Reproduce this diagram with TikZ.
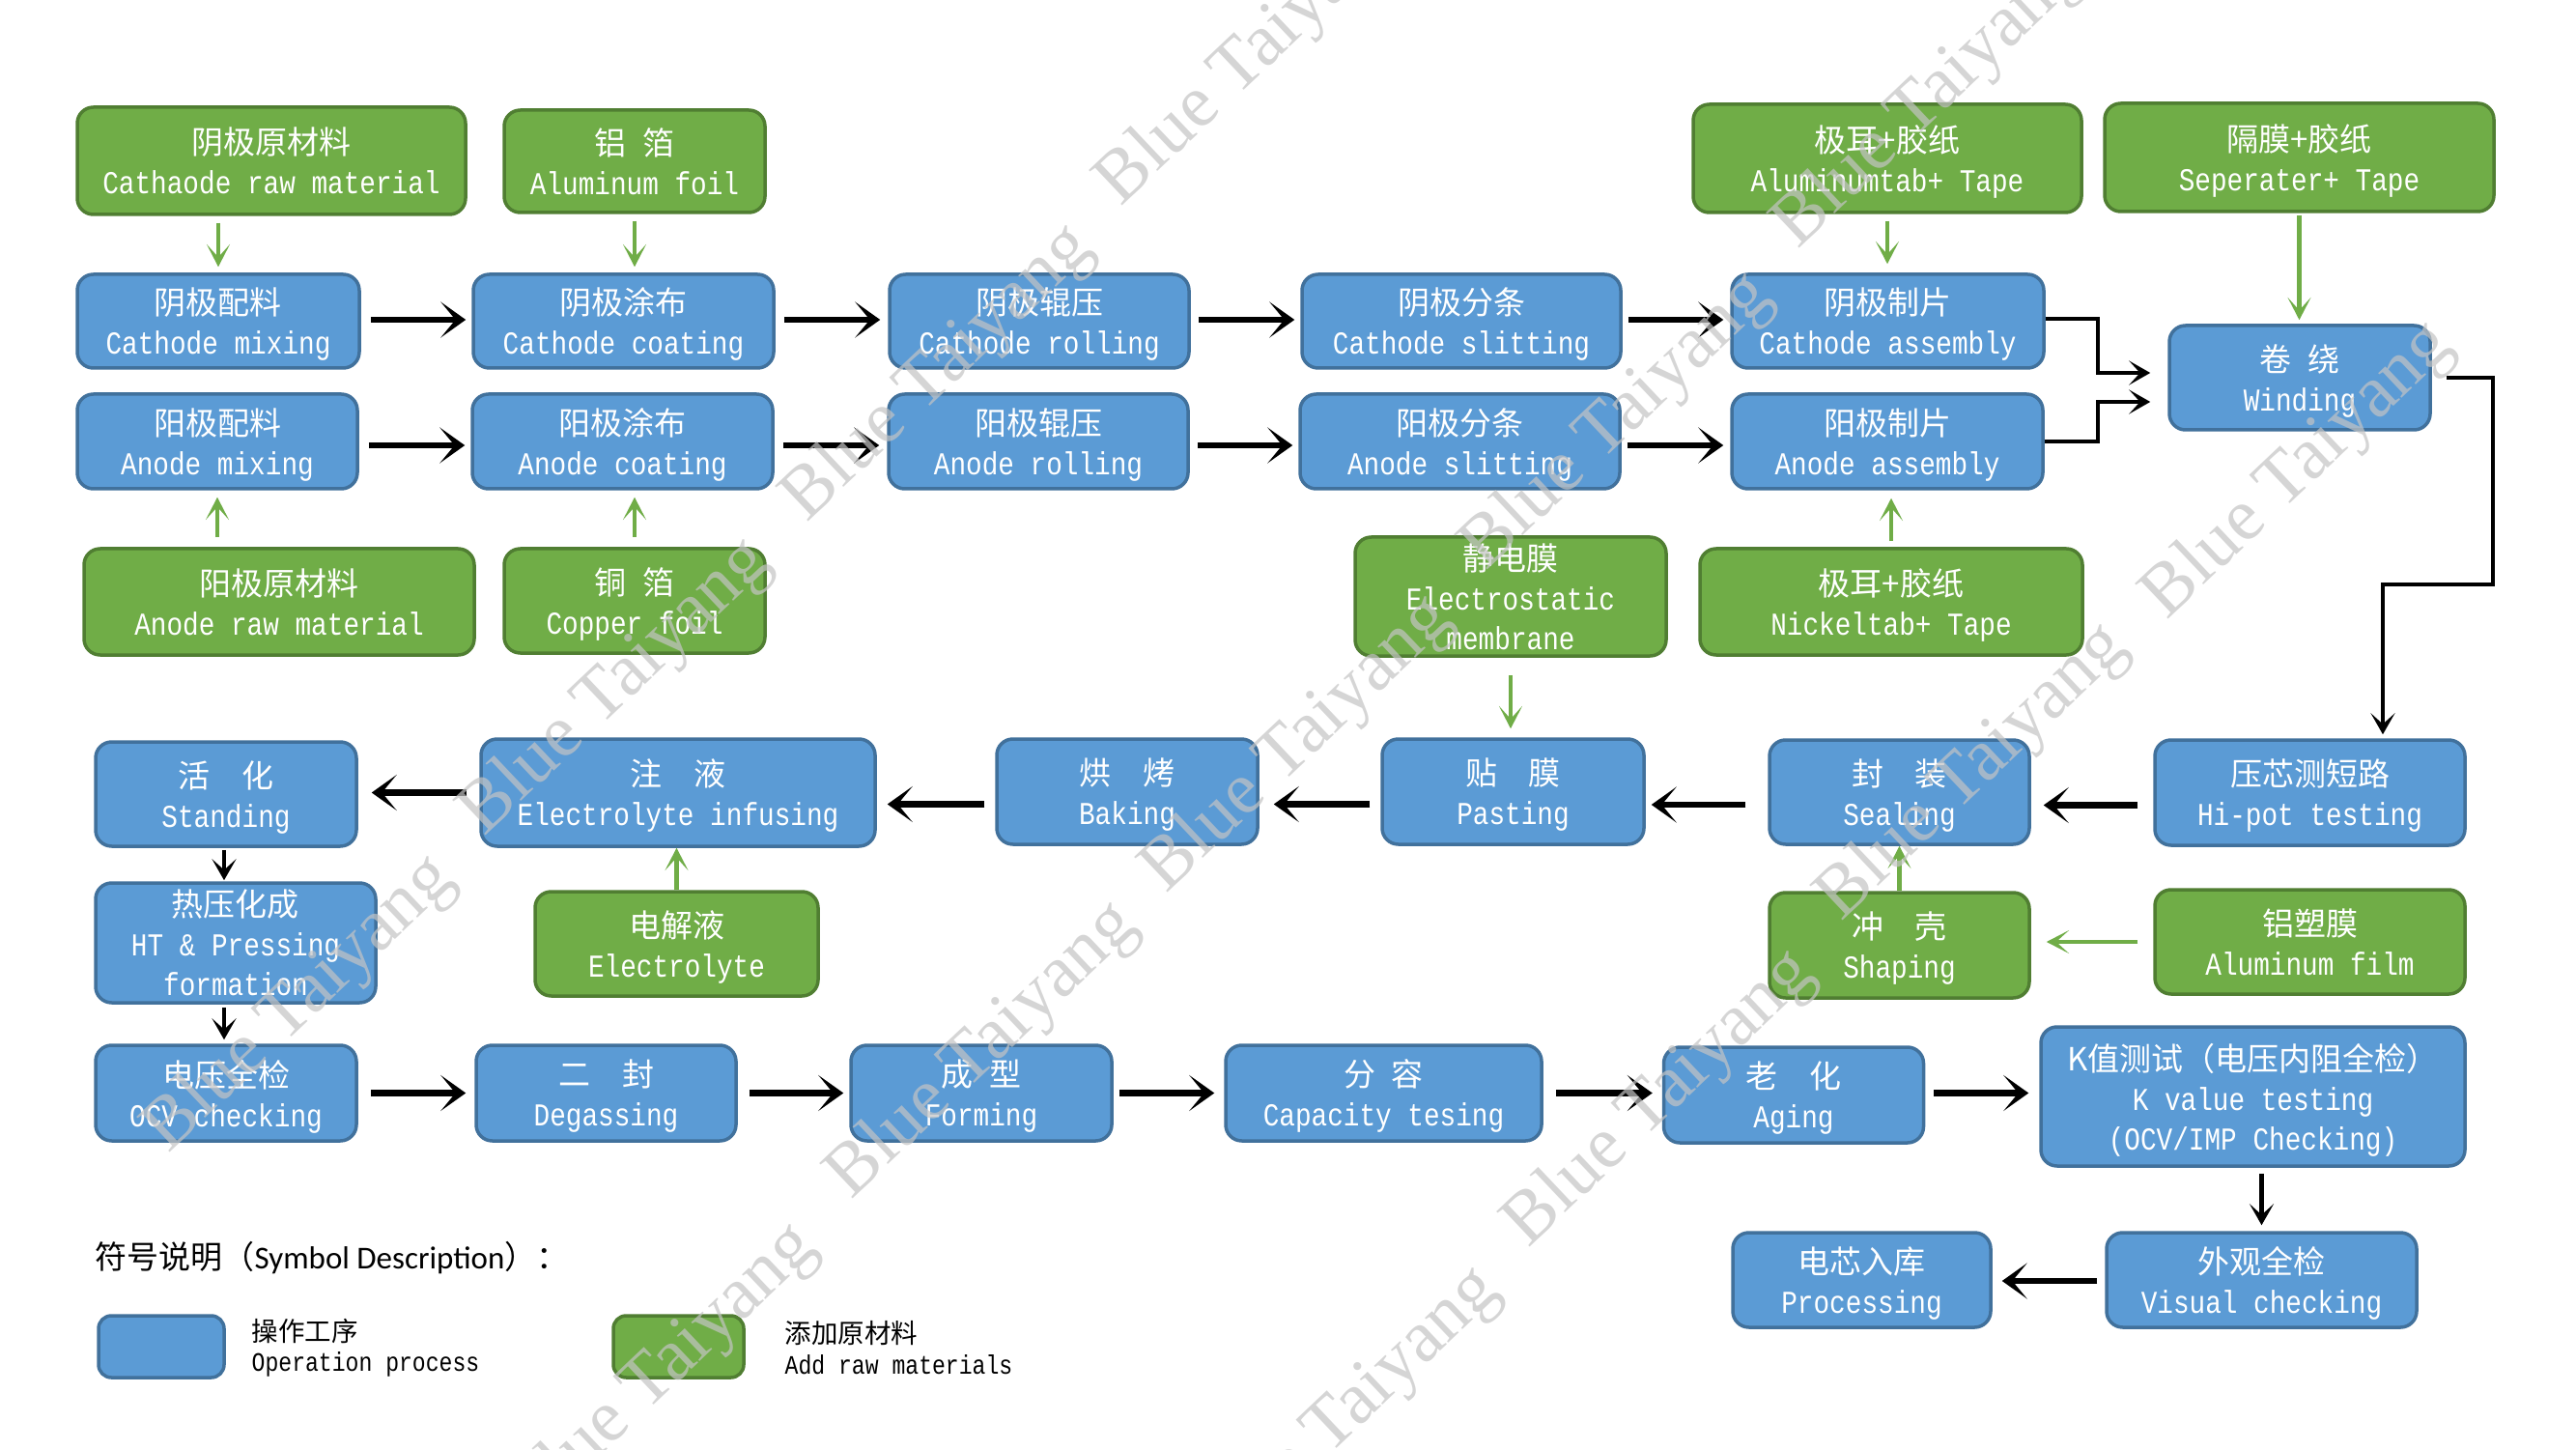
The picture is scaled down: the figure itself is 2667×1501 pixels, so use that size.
\documentclass[tikz,border=0pt]{standalone}
\usepackage{fontspec}
\setmainfont{Liberation Mono}[FakeStretch=0.84]
\newfontfamily\cjk{Noto Sans CJK SC}
\newfontfamily\lat{Liberation Mono}[FakeStretch=0.84]
\newfontfamily\carl{Carlito}
\newfontfamily\wmf{Liberation Serif}
\usetikzlibrary{arrows.meta}
\definecolor{bfill}{RGB}{91,155,213}
\definecolor{bdraw}{RGB}{65,113,156}
\definecolor{gfill}{RGB}{112,173,71}
\definecolor{gdraw}{RGB}{80,126,50}
\definecolor{wmcol}{RGB}{196,196,196}
\newcommand\hsp[1]{\hspace*{#1em}}
\begin{document}
\begin{tikzpicture}[x=0.3pt,y=-0.3pt,
  proc/.style={draw=bdraw, fill=bfill, line width=1.05pt, rounded corners=5pt,
    text=white, align=center, inner sep=0pt, text depth=0pt,
    font=\fontsize{9.9}{12.3}\selectfont},
  rawm/.style={proc, draw=gdraw, fill=gfill},
  low/.style={text depth=-1.4pt},
  wh/.style 2 args={minimum width={#1*0.3pt}, minimum height={#2*0.3pt}},
  bigarr/.style={line width=2pt, -{Stealth[length=7.8pt, width=11.1pt, inset=4.6pt]}},
  smallarr/.style={line width=1.4pt, -{Stealth[length=6.6pt, width=7.5pt, inset=3.4pt]}},
  grarr/.style={draw=gfill, line width=1.4pt, -{Stealth[length=7pt, width=7.2pt, inset=4pt]}},
  legtxt/.style={anchor=west, align=left, inner sep=0pt, font=\fontsize{8.25}{9.45}\selectfont},
  wm/.style={font=\wmf\fontsize{23}{23}\selectfont, text=wmcol, text opacity=0.7, rotate=43.4, inner sep=0pt}
]
\fill[white] (0,0) rectangle (2667,1501);
\useasboundingbox (0,0) rectangle (2667,1501);

% ---- top raw materials
\node[rawm, low, wh={402}{111}] (g1) at (281,166.5) {\cjk 阴极原材料\\\lat Cathaode raw material};
\node[rawm, low, wh={270}{106}] (g2) at (657,167) {\cjk 铝\hsp{0.5}箔\\\lat Aluminum foil};
\node[rawm, low, wh={402}{112}] (g3) at (1954,164) {\cjk 极耳+胶纸\\\lat Aluminumtab+ Tape};
\node[rawm, low, wh={403}{112}] (g4) at (2380.5,163) {\cjk 隔膜+胶纸\\\lat Seperater+ Tape};

% ---- cathode row
\node[proc, wh={292}{97}] (b1) at (226,332.5) {\cjk 阴极配料\\\lat Cathode mixing};
\node[proc, wh={311}{97}] (b2) at (645.5,332.5) {\cjk 阴极涂布\\\lat Cathode coating};
\node[proc, wh={310}{97}] (b3) at (1076,332.5) {\cjk 阴极辊压\\\lat Cathode rolling};
\node[proc, wh={330}{97}] (b4) at (1513,332.5) {\cjk 阴极分条\\\lat Cathode slitting};
\node[proc, wh={323}{97}] (b5) at (1954.5,332.5) {\cjk 阴极制片\\\lat Cathode assembly};

% ---- anode row
\node[proc, wh={290}{98}] (c1) at (225,457) {\cjk 阳极配料\\\lat Anode mixing};
\node[proc, wh={311}{98}] (c2) at (644.5,457) {\cjk 阳极涂布\\\lat Anode coating};
\node[proc, wh={310}{98}] (c3) at (1075,457) {\cjk 阳极辊压\\\lat Anode rolling};
\node[proc, wh={331}{98}] (c4) at (1511.5,457) {\cjk 阳极分条\\\lat Anode slitting};
\node[proc, wh={322}{98}] (c5) at (1954,457) {\cjk 阳极制片\\\lat Anode assembly};

\node[proc, wh={270}{108}] (wind) at (2381,391) {\cjk 卷\hsp{0.5}绕\\\lat Winding};

% ---- lower raw materials
\node[rawm, low, wh={404}{110}] (g5) at (289,623) {\cjk 阳极原材料\\\lat Anode raw material};
\node[rawm, low, wh={270}{108}] (g6) at (657,622) {\cjk 铜\hsp{0.5}箔\\\lat Copper foil};
\node[rawm, wh={322}{123}] (g7) at (1564,617.5) {\cjk 静电膜\\\lat Electrostatic\\\lat membrane};
\node[rawm, low, wh={396}{110}] (g8) at (1958,623) {\cjk 极耳+胶纸\\\lat Nickeltab+ Tape};

% ---- row 5
\node[proc, wh={270}{108}] (d1) at (234,822) {\cjk 活\hsp{1}化\\\lat Standing};
\node[proc, wh={408}{111}] (d2) at (702,820.5) {\cjk 注\hsp{1}液\\\lat Electrolyte infusing};
\node[proc, wh={270}{109}] (d3) at (1167,819.5) {\cjk 烘\hsp{1}烤\\\lat Baking};
\node[proc, wh={271}{109}] (d4) at (1566.5,819.5) {\cjk 贴\hsp{1}膜\\\lat Pasting};
\node[proc, wh={269}{108}] (d5) at (1966.5,820) {\cjk 封\hsp{1}装\\\lat Sealing};
\node[proc, wh={321}{109}] (d6) at (2391.5,820.5) {\cjk 压芯测短路\\\lat Hi-pot testing};

% ---- row 6
\node[proc, wh={290}{124}] (e1) at (244,976) {\cjk 热压化成\\\lat HT \& Pressing\\\lat formation};
\node[rawm, wh={293}{108}] (e2) at (700.5,977) {\cjk 电解液\\\lat Electrolyte};
\node[rawm, wh={269}{109}] (e3) at (1966.5,978.5) {\cjk 冲\hsp{1}壳\\\lat Shaping};
\node[rawm, wh={321}{108}] (e4) at (2391.5,975) {\cjk 铝塑膜\\\lat Aluminum film};

% ---- row 7
\node[proc, wh={270}{99}] (f1) at (234,1131.5) {\cjk 电压全检\\\lat OCV checking};
\node[proc, wh={269}{99}] (f2) at (627.5,1131.5) {\cjk 二\hsp{1}封\\\lat Degassing};
\node[proc, wh={270}{99}] (f3) at (1016,1131.5) {\cjk 成\hsp{0.5}型\\\lat Forming};
\node[proc, wh={327}{99}] (f4) at (1432.5,1131.5) {\cjk 分\hsp{0.5}容\\\lat Capacity tesing};
\node[proc, wh={269}{99}] (f5) at (1857,1133.5) {\cjk 老\hsp{1}化\\\lat Aging};
\node[proc, wh={439}{144}] (f6) at (2332.5,1135) {\cjk K值测试（电压内阻全检）\\\lat K value testing\\\lat (OCV/IMP Checking)};

% ---- row 8
\node[proc, wh={267}{98}] (h1) at (1927.5,1325) {\cjk 电芯入库\\\lat Processing};
\node[proc, wh={321}{98}] (h2) at (2341.5,1325) {\cjk 外观全检\\\lat Visual checking};

% ---- green arrows
\draw[grarr, shorten <=2.1pt, shorten >=1.8pt] (b1.north |- g1.south) -- (b1.north);
\draw[grarr, shorten <=2.1pt, shorten >=1.8pt] (g2.south) -- (g2.south |- b2.north);
\draw[grarr, shorten <=2.1pt, shorten >=2.7pt] (g3.south) -- (g3.south |- b5.north);
\draw[grarr, shorten <=0.6pt, shorten >=1.2pt] (g4.south) -- (g4.south |- wind.north);
\draw[grarr, shorten <=3pt, shorten >=2.1pt] (c1.south |- g5.north) -- (c1.south);
\draw[grarr, shorten <=3pt, shorten >=2.1pt] (g6.north) -- (g6.north |- c2.south);
\draw[grarr, shorten <=1.8pt, shorten >=2.4pt] (g8.north) -- (g8.north |- c5.south);
\draw[grarr, shorten <=5.4pt, shorten >=2.7pt] (g7.south) -- (g7.south |- d4.north);
\draw[grarr] (e2.north) -- (e2.north |- d2.south);
\draw[grarr] (e3.north) -- (e3.north |- d5.south);
\draw[grarr, shorten <=4.8pt, shorten >=4.8pt] (e4.west) -- (e4.west -| e3.east);

% ---- cathode / anode rows
\draw[bigarr, shorten <=3pt, shorten >=1.8pt] ([yshift=0.45pt]b1.east) -- ([yshift=0.45pt]b2.west);
\draw[bigarr, shorten <=2.7pt, shorten >=2.4pt] ([yshift=0.45pt]b2.east) -- ([yshift=0.45pt]b3.west);
\draw[bigarr, shorten <=2.4pt, shorten >=1.8pt] ([yshift=0.45pt]b3.east) -- ([yshift=0.45pt]b4.west);
\draw[bigarr, shorten <=1.8pt, shorten >=2.1pt] ([yshift=0.45pt]b4.east) -- ([yshift=0.45pt]b5.west);
\draw[bigarr, shorten <=3pt, shorten >=1.8pt] ([yshift=-1.2pt]c1.east) -- ([yshift=-1.2pt]c2.west);
\draw[bigarr, shorten <=2.7pt, shorten >=2.4pt] ([yshift=-1.2pt]c2.east) -- ([yshift=-1.2pt]c3.west);
\draw[bigarr, shorten <=2.4pt, shorten >=1.8pt] ([yshift=-1.2pt]c3.east) -- ([yshift=-1.2pt]c4.west);
\draw[bigarr, shorten <=1.8pt, shorten >=2.1pt] ([yshift=-1.2pt]c4.east) -- ([yshift=-1.2pt]c5.west);

% ---- into winding
\coordinate (jn) at (2172,0);
\draw[smallarr, shorten >=5.4pt] ([yshift=0.75pt]b5.east) -- ([yshift=0.75pt]b5.east -| jn) |- ([yshift=1.5pt]wind.west);
\draw[smallarr, shorten >=5.4pt] (c5.east) -- (c5.east -| jn) |- ([yshift=-7.5pt]wind.west);

% ---- winding to hi-pot
\coordinate (w1) at (2581,605);
\coordinate (w2) at (2467,605);
\draw[smallarr, shorten >=1.2pt] ([xshift=4.5pt]wind.east) -| (w1) -- (w2) -- (w2 |- d6.north);

% ---- row 5 (leftwards)
\draw[bigarr, shorten <=4.8pt, shorten >=3.9pt] ([yshift=-3.9pt]d6.west) -- ([yshift=-3.9pt]d6.west -| d5.east);
\draw[bigarr, shorten <=6.9pt, shorten >=1.8pt] ([yshift=-3.9pt]d5.west) -- ([yshift=-3.9pt]d5.west -| d4.east);
\draw[bigarr, shorten <=3.3pt, shorten >=4.5pt] ([yshift=-3.9pt]d4.west) -- ([yshift=-3.9pt]d4.west -| d3.east);
\draw[bigarr, shorten <=3.3pt, shorten >=3.3pt] ([yshift=-3.9pt]d3.west) -- ([yshift=-3.9pt]d3.west -| d2.east);
\draw[bigarr, shorten <=3.9pt, shorten >=4.2pt] (d2.west) -- (d2.west -| d1.east);

% ---- left column down
\draw[smallarr, shorten <=0.6pt, shorten >=0.3pt] ([xshift=-0.6pt]d1.south) -- ([xshift=-0.6pt]d1.south |- e1.north);
\draw[smallarr, shorten <=0.9pt, shorten >=1.2pt] ([xshift=-0.6pt]f1.north |- e1.south) -- ([xshift=-0.6pt]f1.north);

% ---- row 7
\draw[bigarr, shorten <=3.9pt, shorten >=2.7pt] (f1.east) -- (f2.west);
\draw[bigarr, shorten <=3.6pt, shorten >=1.8pt] (f2.east) -- (f3.west);
\draw[bigarr, shorten <=1.8pt, shorten >=3pt] (f3.east) -- (f4.west);
\draw[bigarr, shorten <=3.9pt, shorten >=3pt] (f4.east) -- (f4.east -| f5.west);
\draw[bigarr, shorten <=2.7pt, shorten >=3.3pt] ([yshift=0.6pt]f5.east) -- ([yshift=0.6pt]f5.east -| f6.west);

% ---- to the end
\draw[smallarr, shorten <=1.8pt, shorten >=1.8pt] (h2.north |- f6.south) -- (h2.north);
\draw[bigarr, shorten <=2.4pt, shorten >=3pt] ([yshift=-0.3pt]h2.west) -- ([yshift=-0.3pt]h2.west -| h1.east);

% ---- legend
\node[anchor=west, inner sep=0pt, font=\fontsize{9.9}{12}\selectfont] (lt) at (98,1302) {\cjk 符号说明（\carl Symbol Description\cjk ）：};
\node[proc, wh={130}{64}, rounded corners=4pt] (lb) at (167,1394) {};
\node[legtxt] (ltb) at (260,1395) {\cjk 操作工序\\\lat Operation process};
\node[rawm, wh={135}{64}, rounded corners=4pt] (lg) at (702.5,1394) {};
\node[legtxt] (ltg) at (812,1395) {\cjk 添加原材料\\\lat Add raw materials};

% ---- watermarks
\foreach \wx/\wy [count=\i] in {1297/60, 1998/104, 972/387, 1675/437, 2380/488, 638/712,
  1344/771, 2043/800, 311/1040, 1018/1088, 1719/1138, 686/1421, 1393/1466}
  \node[wm] (wm\i) at (\wx,\wy) {Blue Taiyang};
\end{tikzpicture}
\end{document}
